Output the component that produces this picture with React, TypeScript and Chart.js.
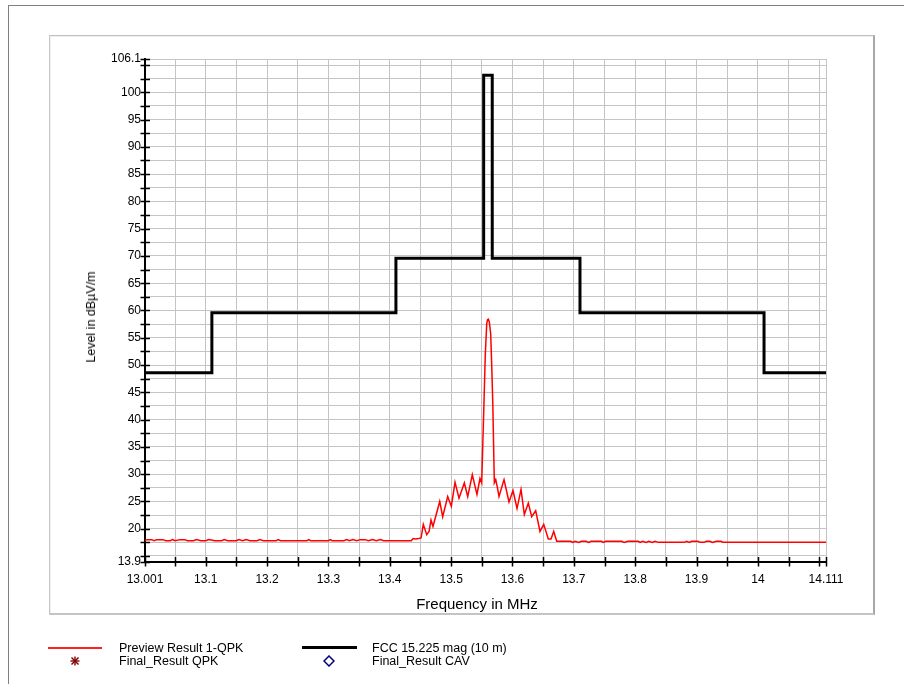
import React, { useEffect, useRef } from 'react';
import { Chart, registerables } from 'chart.js';

Chart.register(...registerables);

// ---- Data ----
const xTicks = [13.001, 13.05, 13.1, 13.15, 13.2, 13.25, 13.3, 13.35, 13.4, 13.45, 13.5, 13.55, 13.6, 13.65, 13.7, 13.75, 13.8, 13.85, 13.9, 13.95, 14, 14.05, 14.1, 14.111];
const xTickLabels = ['13.001', '', '13.1', '', '13.2', '', '13.3', '', '13.4', '', '13.5', '', '13.6', '', '13.7', '', '13.8', '', '13.9', '', '14', '', '', '14.111'];

const yTicks = [13.9, 15, 17.5, 20, 22.5, 25, 27.5, 30, 32.5, 35, 37.5, 40, 42.5, 45, 47.5, 50, 52.5, 55, 57.5, 60, 62.5, 65, 67.5, 70, 72.5, 75, 77.5, 80, 82.5, 85, 87.5, 90, 92.5, 95, 97.5, 100, 102.5, 105, 106.1];
const yTickLabels = ['13.9', '', '', '20', '', '25', '', '30', '', '35', '', '40', '', '45', '', '50', '', '55', '', '60', '', '65', '', '70', '', '75', '', '80', '', '85', '', '90', '', '95', '', '100', '', '', '106.1'];

// FCC 15.225 limit (10 m), step function
const limitFreq = [13.001, 13.110, 13.110, 13.410, 13.410, 13.553, 13.553, 13.567, 13.567, 13.710, 13.710, 14.010, 14.010, 14.111];
const limitLevel = [48.6, 48.6, 59.6, 59.6, 69.6, 69.6, 103.1, 103.1, 69.6, 69.6, 59.6, 59.6, 48.6, 48.6];

// Preview Result 1-QPK trace
const previewFreq = [
  13.001, 13.005, 13.012, 13.016, 13.020, 13.030, 13.035, 13.042, 13.046, 13.050,
  13.058, 13.066, 13.070, 13.080, 13.085, 13.092, 13.100, 13.105, 13.115, 13.126,
  13.130, 13.136, 13.150, 13.154, 13.160, 13.166, 13.172, 13.184, 13.188, 13.194,
  13.215, 13.218, 13.222, 13.265, 13.268, 13.271, 13.300, 13.303, 13.306, 13.325,
  13.330, 13.334, 13.340, 13.346, 13.352, 13.360, 13.365, 13.372, 13.378, 13.385,
  13.390, 13.435, 13.438, 13.442, 13.447,
  13.451, 13.4546, 13.4602, 13.464, 13.4672, 13.4704, 13.4814, 13.4862, 13.4944, 13.5003,
  13.5063, 13.5128, 13.5215, 13.5270, 13.5345, 13.5421, 13.5470, 13.5498, 13.5536, 13.5557,
  13.5580, 13.5593, 13.5606, 13.5622, 13.5645, 13.5661, 13.5678, 13.5704, 13.5727, 13.5755,
  13.5780, 13.5862, 13.5943, 13.6008, 13.6074,
  13.6139, 13.6193, 13.6258, 13.6313, 13.6378, 13.6448, 13.6509, 13.6584, 13.6628, 13.6672,
  13.6721,
  13.695, 13.698, 13.702, 13.708, 13.712, 13.720, 13.724, 13.728, 13.745, 13.748,
  13.752, 13.778, 13.782, 13.788, 13.805, 13.808, 13.812, 13.818, 13.822, 13.828,
  13.832, 13.838, 13.845, 13.880, 13.884, 13.888, 13.892, 13.902, 13.906, 13.912,
  13.916, 13.922, 13.926, 13.932, 13.940, 13.943, 14.111,
];
const previewLevel = [
  17.9, 18.0, 18.0, 17.8, 18.0, 18.0, 17.8, 17.8, 18.0, 17.8,
  18.0, 18.0, 17.8, 17.8, 18.0, 17.8, 17.8, 18.0, 17.8, 17.8,
  18.0, 17.8, 17.8, 18.0, 17.8, 18.0, 17.8, 17.8, 18.0, 17.8,
  17.8, 18.0, 17.8, 17.8, 18.0, 17.8, 17.8, 18.0, 17.8, 17.8,
  18.0, 17.8, 18.0, 17.8, 18.0, 18.0, 17.8, 18.0, 17.8, 18.0,
  17.8, 17.8, 18.2, 18.1, 18.2,
  18.3, 20.8, 18.9, 19.5, 21.6, 20.4, 25.0, 22.2, 25.9, 24.1,
  28.5, 25.6, 28.4, 25.9, 29.9, 26.3, 29.2, 28.4, 43.4, 52.0,
  57.6, 58.3, 58.4, 57.9, 55.7, 50.0, 43.4, 28.4, 29.0, 27.5,
  25.9, 29.0, 24.9, 27.0, 23.7,
  27.2, 22.6, 24.7, 22.2, 23.3, 19.5, 20.8, 18.1, 18.1, 19.5,
  17.7,
  17.7, 17.5, 17.7, 17.5, 17.7, 17.7, 17.5, 17.7, 17.7, 17.5,
  17.7, 17.7, 17.5, 17.7, 17.7, 17.5, 17.7, 17.5, 17.7, 17.5,
  17.7, 17.5, 17.5, 17.5, 17.7, 17.5, 17.7, 17.7, 17.5, 17.5,
  17.7, 17.7, 17.5, 17.7, 17.7, 17.5, 17.5,
];

const FONT = "'Liberation Sans', Arial, sans-serif";

const tickMarks = {
  id: 'tickMarks',
  afterDraw(chart: any) {
    const ctx = chart.ctx;
    const area = chart.chartArea;
    const xs = chart.scales.x;
    const ys = chart.scales.y;
    ctx.save();
    ctx.strokeStyle = '#000';
    ctx.lineWidth = 1.5;
    ctx.beginPath();
    yTicks.forEach((v) => {
      const y = Math.round(ys.getPixelForValue(v)) + 0.5;
      ctx.moveTo(area.left - 4.5, y);
      ctx.lineTo(area.left + 5, y);
    });
    xTicks.forEach((v) => {
      const x = Math.round(xs.getPixelForValue(v)) + 0.5;
      ctx.moveTo(x, area.bottom - 5);
      ctx.lineTo(x, area.bottom + 4.5);
    });
    ctx.stroke();
    ctx.restore();
  },
};

function App() {
  const ref = useRef<HTMLCanvasElement | null>(null);

  useEffect(() => {
    if (!ref.current) return;
    const chart = new Chart(ref.current, {
      type: 'line',
      data: {
        datasets: [
          {
            label: 'FCC 15.225 mag (10 m)',
            data: limitFreq.map((f, i) => ({ x: f, y: limitLevel[i] })),
            borderColor: '#000000',
            borderWidth: 3,
            pointRadius: 0,
            tension: 0,
            fill: false,
          },
          {
            label: 'Preview Result 1-QPK',
            data: previewFreq.map((f, i) => ({ x: f, y: previewLevel[i] })),
            borderColor: '#ff0000',
            borderWidth: 1.5,
            pointRadius: 0,
            tension: 0,
            fill: false,
          },
        ],
      },
      options: {
        animation: false,
        responsive: false,
        events: [],
        layout: { padding: { left: 0, top: 59, right: 78, bottom: 82 } },
        plugins: {
          legend: { display: false },
          tooltip: { enabled: false },
          title: { display: false },
        },
        scales: {
          x: {
            type: 'linear',
            min: 13.001,
            max: 14.111,
            afterBuildTicks: (scale: any) => {
              scale.ticks = xTicks.map((v) => ({ value: v }));
            },
            afterFit: (scale: any) => {
              scale.height = 40;
            },
            ticks: {
              autoSkip: false,
              maxRotation: 0,
              minRotation: 0,
              padding: 10,
              color: '#000',
              font: { family: FONT, size: 12 },
              callback: (_v: any, i: number) => xTickLabels[i],
            },
            grid: { color: '#c4c4c4', lineWidth: 1, drawTicks: false },
            border: { display: true, color: '#000', width: 2 },
          },
          y: {
            type: 'linear',
            min: 13.9,
            max: 106.1,
            afterBuildTicks: (scale: any) => {
              scale.ticks = yTicks.map((v) => ({ value: v }));
            },
            afterFit: (scale: any) => {
              scale.width = 145;
            },
            ticks: {
              autoSkip: false,
              padding: 4,
              color: '#000',
              font: { family: FONT, size: 12 },
              callback: (_v: any, i: number) => yTickLabels[i],
            },
            grid: { color: '#c4c4c4', lineWidth: 1, drawTicks: false },
            border: { display: true, color: '#000', width: 2 },
          },
        },
      },
      plugins: [tickMarks],
    } as any);
    return () => chart.destroy();
  }, []);

  const text: React.CSSProperties = {
    position: 'absolute',
    fontFamily: FONT,
    fontSize: 12.5,
    color: '#000',
    whiteSpace: 'nowrap',
    lineHeight: '14px',
  };

  return (
    <div style={{ position: 'absolute', left: 0, top: 0, width: 904, height: 684, overflow: 'hidden', background: '#fff' }}>
      <div style={{ position: 'absolute', left: 8, top: 5, width: 896, height: 679, boxSizing: 'border-box', borderLeft: '1px solid #808080', borderTop: '1px solid #808080' }} />
      <div style={{ position: 'absolute', left: 49, top: 35, width: 826, height: 580, boxSizing: 'border-box', borderTop: '1px solid #c0c0c0', borderLeft: '1px solid #c8c8c8', borderRight: '2px solid #a8a8a8', borderBottom: '2px solid #c4c4c4', boxShadow: 'inset 1px 1px 0 #efefef' }} />
      <canvas ref={ref} width={904} height={684} style={{ position: 'absolute', left: 0, top: 0, width: 904, height: 684 }} />
      <div style={{ ...text, fontSize: 15, left: 477, top: 603, transform: 'translate(-50%, -50%)', lineHeight: '17px' }}>Frequency in MHz</div>
      <div style={{ ...text, fontSize: 12.5, left: 91, top: 317, transform: 'translate(-50%, -50%) rotate(-90deg)' }}>Level in dBµV/m</div>

      <div style={{ position: 'absolute', left: 48, top: 647, width: 54, height: 2, background: '#ff2020' }} />
      <div style={{ ...text, left: 119, top: 641 }}>Preview Result 1-QPK</div>
      <svg style={{ position: 'absolute', left: 70, top: 656 }} width={10} height={10} viewBox="0 0 10 10">
        <g stroke="#800000" strokeWidth={1.4}>
          <line x1={0.5} y1={5} x2={9.5} y2={5} />
          <line x1={5} y1={0.5} x2={5} y2={9.5} />
          <line x1={1.5} y1={1.5} x2={8.5} y2={8.5} />
          <line x1={8.5} y1={1.5} x2={1.5} y2={8.5} />
        </g>
      </svg>
      <div style={{ ...text, left: 119, top: 654 }}>Final_Result QPK</div>

      <div style={{ position: 'absolute', left: 302, top: 646, width: 55, height: 3, background: '#000' }} />
      <div style={{ ...text, left: 372, top: 641 }}>FCC 15.225 mag (10 m)</div>
      <svg style={{ position: 'absolute', left: 323, top: 655 }} width={12} height={12} viewBox="0 0 12 12">
        <polygon points="6,1 11,6 6,11 1,6" fill="none" stroke="#000080" strokeWidth={1.5} />
      </svg>
      <div style={{ ...text, left: 372, top: 654 }}>Final_Result CAV</div>
    </div>
  );
}

export default App;
